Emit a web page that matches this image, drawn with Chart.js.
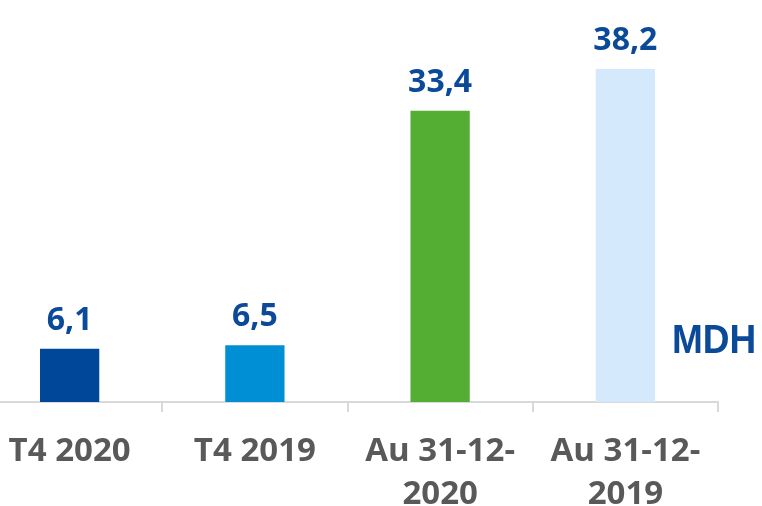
<!DOCTYPE html>
<html>
<head>
<meta charset="utf-8">
<script src="https://cdn.jsdelivr.net/npm/chart.js@4"></script>
<style>
  html, body { margin: 0; padding: 0; background: #fff; overflow: hidden; }
  #wrap { position: relative; width: 762px; height: 506px; overflow: hidden; }
  #holder { position: absolute; left: -23px; top: 0; width: 785px; height: 506px; }
  #unit {
    position: absolute; left: 672px; top: 317px; line-height: 1;
    font: bold 37px "Liberation Sans", Arial, sans-serif; color: #0b4a99;
    transform: scale(1, 1.08); transform-origin: 0 0;
  }
</style>
</head>
<body>
<div id="wrap">
  <div id="holder"><canvas id="c" width="785" height="506"></canvas></div>
  <div id="unit">MDH</div>
</div>
<script>
// values
const categories = [['T4 2020'], ['T4 2019'], ['Au 31-12-', '2020'], ['Au 31-12-', '2019']];
const values = [6.1, 6.5, 33.4, 38.2];
const barColors = ['#00479a', '#008fd5', '#53ae33', '#d4e9fb'];

// value labels above bars, "6,1" style
const valueLabels = {
  id: 'valueLabels',
  afterDatasetsDraw(chart) {
    const ctx = chart.ctx;
    const meta = chart.getDatasetMeta(0);
    ctx.save();
    ctx.font = 'bold 32px "Open Sans", sans-serif';
    ctx.fillStyle = '#0b4a99';
    ctx.textAlign = 'center';
    ctx.textBaseline = 'alphabetic';
    meta.data.forEach((bar, i) => {
      ctx.fillText(values[i].toFixed(1).replace('.', ','), bar.x, bar.y - 19);
    });
    ctx.restore();
  }
};

new Chart(document.getElementById('c'), {
  type: 'bar',
  data: {
    labels: categories,
    datasets: [{
      data: values,
      backgroundColor: barColors,
      borderWidth: 0,
      categoryPercentage: 1,
      barPercentage: 0.32
    }]
  },
  options: {
    responsive: false,
    animation: false,
    layout: { padding: { left: 0, right: 44, top: 0, bottom: 0 } },
    plugins: { legend: { display: false }, tooltip: { enabled: false } },
    scales: {
      y: { display: false, min: 0, max: 46.1 },
      x: {
        afterFit(scale) { scale.height = 104; },
        grid: { drawOnChartArea: false, drawTicks: true, tickLength: 10, color: '#d9d9d9', lineWidth: 2 },
        border: { display: true, color: '#d9d9d9', width: 2 },
        ticks: {
          color: '#595959',
          padding: 18,
          maxRotation: 0,
          autoSkip: false,
          font: { family: '"Open Sans", sans-serif', size: 33, weight: 'bold', lineHeight: 1.3 }
        }
      }
    }
  },
  plugins: [valueLabels]
});
</script>
</body>
</html>
